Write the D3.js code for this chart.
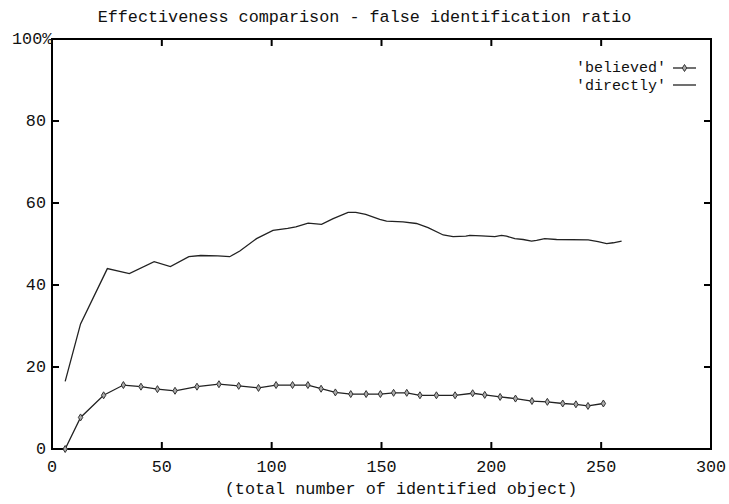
<!DOCTYPE html>
<html>
<head>
<meta charset="utf-8">
<script src="https://cdn.jsdelivr.net/npm/d3@7"></script>
<style>
  body { margin: 0; background: #fff; }
  text { font-family: "Liberation Mono", "DejaVu Sans Mono", monospace; font-size: 16.8px; fill: #111; }
  .legend text { font-size: 15px; }
</style>
</head>
<body>
<div id="chart"></div>
<script>
// false identification ratio, two series
const believedX = [6, 13, 23.5, 32.5, 40.5, 48, 56, 66, 76, 85, 94, 102, 109.5, 116.5, 122.5, 129, 136, 143, 149.5, 155.5, 161.5, 167.5, 175, 183.5, 191.5, 197, 204, 211, 218.5, 225.5, 232.5, 238.5, 244, 251];
const believedY = [0, 7.7, 13.1, 15.6, 15.2, 14.6, 14.2, 15.2, 15.8, 15.4, 14.9, 15.6, 15.6, 15.6, 14.7, 13.8, 13.4, 13.4, 13.4, 13.7, 13.7, 13.1, 13.1, 13.1, 13.6, 13.2, 12.7, 12.3, 11.7, 11.5, 11.1, 10.9, 10.5, 11.1];

const directlyX = [6, 13, 25.2, 35.2, 46.5, 53.9, 62.3, 67.7, 75.5, 80.9, 85.5, 93.1, 100.6, 107.3, 111, 116.6, 122.7, 128, 134.8, 138.3, 142.8, 149.2, 152.3, 159.8, 165.9, 171.2, 178.1, 182.6, 188.4, 190.2, 195.5, 201.6, 204.6, 206.9, 210.7, 214.5, 218.3, 220.6, 224.3, 229.7, 244.1, 248.6, 252.5, 255.5, 259.3];
const directlyY = [16.5, 30.5, 44.0, 42.8, 45.7, 44.5, 46.9, 47.2, 47.1, 46.9, 48.3, 51.3, 53.3, 53.8, 54.2, 55.1, 54.8, 56.2, 57.7, 57.7, 57.2, 56.0, 55.6, 55.4, 55.0, 54.0, 52.2, 51.8, 51.9, 52.1, 52.0, 51.8, 52.1, 51.9, 51.3, 51.1, 50.7, 50.9, 51.3, 51.1, 51.0, 50.6, 50.1, 50.3, 50.7];

const xTicks = [0, 50, 100, 150, 200, 250, 300];
const yTicks = [0, 20, 40, 60, 80, 100];

const width = 729, height = 504;
const padL = 52, padR = 711, padT = 39, padB = 449;

const svg = d3.select("#chart").append("svg")
    .attr("width", width)
    .attr("height", height);

const x = d3.scaleLinear().domain([0, 300]).range([padL, padR]);
const y = d3.scaleLinear().domain([0, 100]).range([padB, padT]);

// ticks, inward on all four sides
const tickLen = 7;
const ticks = svg.append("g").attr("stroke", "#000").attr("stroke-width", 2);
xTicks.forEach(t => {
    ticks.append("line").attr("x1", x(t)).attr("x2", x(t)).attr("y1", padB).attr("y2", padB - tickLen);
    ticks.append("line").attr("x1", x(t)).attr("x2", x(t)).attr("y1", padT).attr("y2", padT + tickLen);
});
yTicks.forEach(t => {
    ticks.append("line").attr("x1", padL).attr("x2", padL + tickLen).attr("y1", y(t)).attr("y2", y(t));
    ticks.append("line").attr("x1", padR).attr("x2", padR - tickLen).attr("y1", y(t)).attr("y2", y(t));
});

// frame
svg.append("rect")
    .attr("x", padL).attr("y", padT)
    .attr("width", padR - padL).attr("height", padB - padT)
    .attr("fill", "none").attr("stroke", "#000").attr("stroke-width", 2);

// tick labels
svg.append("g").selectAll("text")
    .data(xTicks)
    .enter().append("text")
    .attr("x", d => x(d))
    .attr("y", padB + 23)
    .attr("text-anchor", "middle")
    .text(d => d);

svg.append("g").selectAll("text")
    .data(yTicks)
    .enter().append("text")
    .attr("x", d => d === 100 ? 12 : padL - 6)
    .attr("y", d => y(d) + 5)
    .attr("text-anchor", d => d === 100 ? "start" : "end")
    .text(d => d === 100 ? "100%" : d);

// title and axis label
svg.append("text")
    .attr("x", width / 2).attr("y", 22)
    .attr("text-anchor", "middle")
    .text("Effectiveness comparison - false identification ratio");

svg.append("text")
    .attr("x", 401).attr("y", 494)
    .attr("text-anchor", "middle")
    .text("(total number of identified object)");

const line = d3.line().x(d => x(d[0])).y(d => y(d[1]));

const directlyData = directlyX.map((v, i) => [v, directlyY[i]]);
const believedData = believedX.map((v, i) => [v, believedY[i]]);

svg.append("path")
    .datum(directlyData)
    .attr("d", line)
    .attr("fill", "none")
    .attr("stroke", "#222")
    .attr("stroke-width", 1.3);

svg.append("path")
    .datum(believedData)
    .attr("d", line)
    .attr("fill", "none")
    .attr("stroke", "#222")
    .attr("stroke-width", 1.3);

const diamond = "M0,-3.5L2.2,0L0,3.5L-2.2,0Z";

svg.append("g").selectAll("path")
    .data(believedData)
    .enter().append("path")
    .attr("d", diamond)
    .attr("transform", d => `translate(${x(d[0])},${y(d[1])})`)
    .attr("fill", "#aaa")
    .attr("stroke", "#333")
    .attr("stroke-width", 1);

// legend
const legend = svg.append("g").attr("class", "legend");
legend.append("text").attr("x", 666).attr("y", 72).attr("text-anchor", "end").text("'believed'");
legend.append("line").attr("x1", 673).attr("x2", 696).attr("y1", 68).attr("y2", 68)
    .attr("stroke", "#222").attr("stroke-width", 1.3);
legend.append("path").attr("d", diamond).attr("transform", "translate(684.5,68)")
    .attr("fill", "#aaa").attr("stroke", "#333");
legend.append("text").attr("x", 666).attr("y", 90).attr("text-anchor", "end").text("'directly'");
legend.append("line").attr("x1", 673).attr("x2", 696).attr("y1", 85).attr("y2", 85)
    .attr("stroke", "#222").attr("stroke-width", 1.3);
</script>
</body>
</html>
